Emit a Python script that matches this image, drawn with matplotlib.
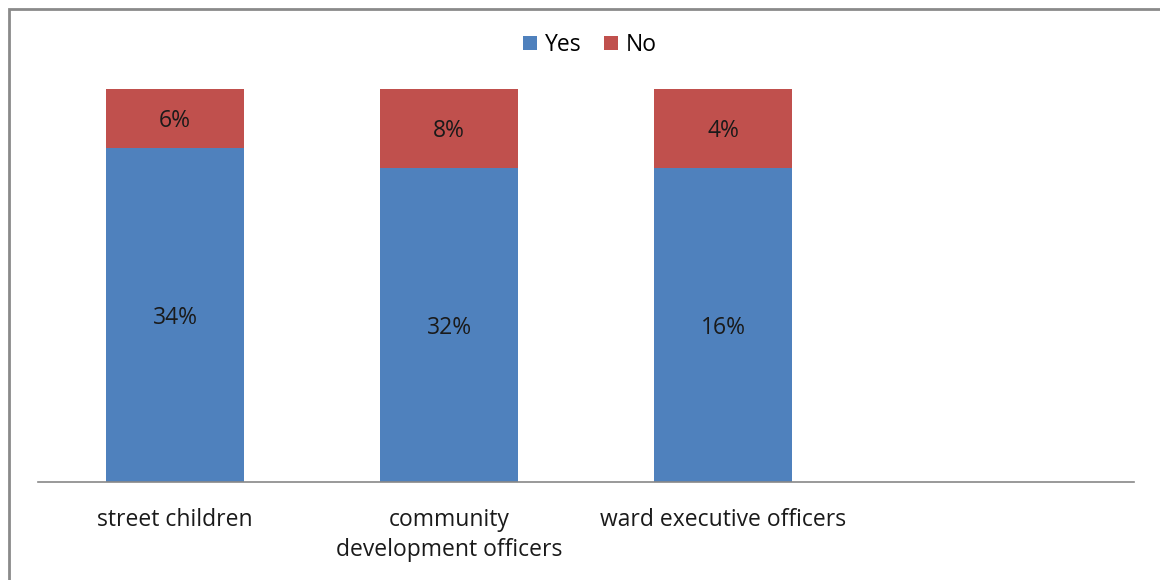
import matplotlib
matplotlib.use("Agg")
import matplotlib.pyplot as plt
from matplotlib.patches import Rectangle
import numpy as np

plt.rcParams['font.family'] = ['Open Sans', 'DejaVu Sans']

categories = ["street children", "community\ndevelopment officers", "ward executive officers", ""]
yes_values = [34, 32, 16]
no_values = [6, 8, 4]

BLUE = "#4F81BD"
RED = "#C0504D"
TXT = "#1a1a1a"
FS = 16.5

W, H = 1160, 580
fig = plt.figure(figsize=(W / 100, H / 100), dpi=100)

# outer frame of the chart area
fig.patches.append(Rectangle((9 / W, -0.1), 1.2, 1 - 8.5 / H + 0.1, transform=fig.transFigure,
                             fill=False, edgecolor="#8a8a8a", linewidth=2.0))

ax = fig.add_axes([38 / W, 1 - 482 / H, (1134 - 38) / W, (482 - 89) / H])

yes = np.array(yes_values, dtype=float)
no = np.array(no_values, dtype=float)
total = yes + no
yes_pct = yes / total * 100
no_pct = no / total * 100
x = np.arange(len(yes_values))
width = 0.507

ax.bar(x, yes_pct, width, color=BLUE, label="Yes", zorder=2)
ax.bar(x, no_pct, width, bottom=yes_pct, color=RED, label="No", zorder=2)

for xi, yp, npct, yv, nv in zip(x, yes_pct, no_pct, yes_values, no_values):
    ax.text(xi, yp / 2, f"{yv}%", ha="center", va="center_baseline", fontsize=FS, color=TXT)
    ax.text(xi, yp + npct / 2, f"{nv}%", ha="center", va="center_baseline", fontsize=FS, color=TXT)

ax.set_xlim(-0.5, len(categories) - 0.5)
ax.set_ylim(0, 100)
ax.set_xticks(np.arange(len(categories)))
ax.set_xticklabels(categories, fontsize=FS, color=TXT, linespacing=1.32)
ax.tick_params(axis="x", length=0, pad=19)
ax.set_yticks([])
for side in ["top", "left", "right"]:
    ax.spines[side].set_visible(False)
ax.spines["bottom"].set_color("#888888")
ax.spines["bottom"].set_linewidth(1.2)

fig.legend(handles=ax.get_legend_handles_labels()[0], labels=["Yes", "No"],
           loc="center", bbox_to_anchor=(590 / W, 1 - 45 / H), ncol=2, frameon=False,
           fontsize=FS, handlelength=0.6, handleheight=0.6, handletextpad=0.35, columnspacing=1.0)

fig.savefig("out.png", dpi=100, facecolor="white")
